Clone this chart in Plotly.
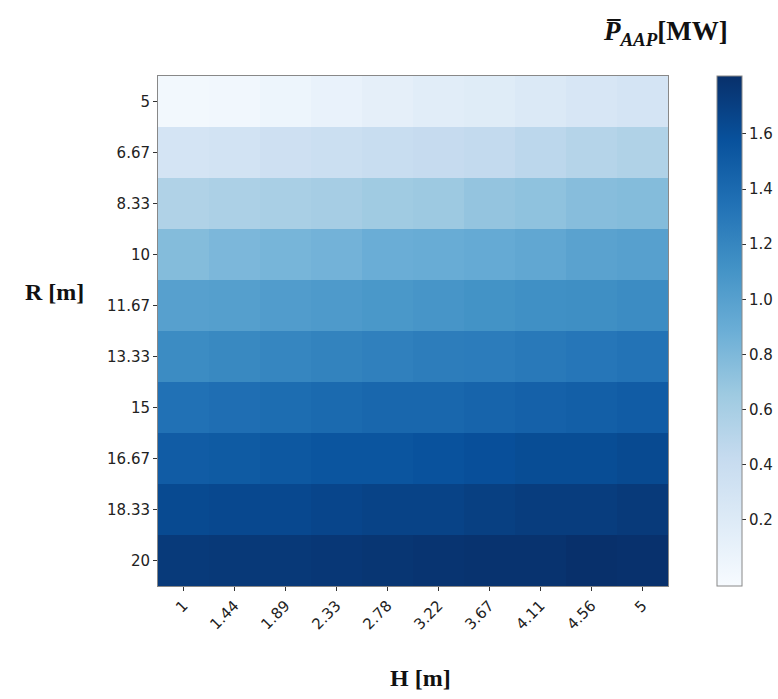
import plotly.graph_objects as go

H_labels = ["1", "1.44", "1.89", "2.33", "2.78", "3.22", "3.67", "4.11", "4.56", "5"]
R_labels = ["5", "6.67", "8.33", "10", "11.67", "13.33", "15", "16.67", "18.33", "20"]

# Mean power P_AAP [MW], rows = R, columns = H
row_R5 = [0.01, 0.02, 0.05, 0.09, 0.13, 0.16, 0.18, 0.22, 0.26, 0.29]
row_R6_67 = [0.29, 0.31, 0.35, 0.37, 0.40, 0.42, 0.44, 0.48, 0.52, 0.55]
row_R8_33 = [0.55, 0.57, 0.59, 0.61, 0.64, 0.66, 0.70, 0.72, 0.76, 0.77]
row_R10 = [0.77, 0.81, 0.83, 0.85, 0.89, 0.90, 0.92, 0.94, 0.98, 1.00]
row_R11_67 = [1.00, 1.01, 1.03, 1.05, 1.07, 1.09, 1.11, 1.13, 1.14, 1.16]
row_R13_33 = [1.16, 1.18, 1.20, 1.22, 1.24, 1.26, 1.27, 1.29, 1.31, 1.33]
row_R15 = [1.35, 1.37, 1.38, 1.40, 1.42, 1.42, 1.44, 1.46, 1.48, 1.50]
row_R16_67 = [1.50, 1.51, 1.53, 1.55, 1.55, 1.57, 1.59, 1.61, 1.61, 1.63]
row_R18_33 = [1.63, 1.64, 1.64, 1.66, 1.68, 1.68, 1.70, 1.72, 1.72, 1.74]
row_R20 = [1.74, 1.75, 1.75, 1.76, 1.77, 1.78, 1.79, 1.79, 1.81, 1.80]

Z = [row_R5, row_R6_67, row_R8_33, row_R10, row_R11_67,
     row_R13_33, row_R15, row_R16_67, row_R18_33, row_R20]

cbar_ticks = [0.2, 0.4, 0.6, 0.8, 1.0, 1.2, 1.4, 1.6]

blues = ["#f7fbff", "#deebf7", "#c6dbef", "#9ecae1", "#6baed6",
         "#4292c6", "#2171b5", "#08519c", "#08306b"]
cscale = [[i / (len(blues) - 1), c] for i, c in enumerate(blues)]

W, Hh = 778, 699
L, R, T, B = 158, 110, 76, 113
PW, PH = W - L - R, Hh - T - B


def px_x(x):
    return (x - L) / PW


def px_y(y):
    return 1 - (y - T) / PH


tick_font = dict(family="DejaVu Sans", size=15, color="#222222")
title_font = dict(family="Liberation Serif", size=24, color="#111111")

fig = go.Figure(go.Heatmap(
    z=Z, x=H_labels, y=R_labels,
    colorscale=cscale, zmin=-0.04, zmax=1.81,
    xgap=0, ygap=0,
    colorbar=dict(
        thickness=25, len=1.0, lenmode="fraction", y=0.5, yanchor="middle",
        ypad=0, x=px_x(717), xanchor="left", xpad=0,
        outlinewidth=1, outlinecolor="#888888",
        tickvals=cbar_ticks, ticktext=[f"{v:.1f}" for v in cbar_ticks],
        ticks="outside", ticklen=4, tickcolor="#333333",
        tickfont=tick_font,
    ),
))

fig.update_layout(
    width=W, height=Hh,
    margin=dict(l=L, r=R, t=T, b=B, autoexpand=False),
    paper_bgcolor="white", plot_bgcolor="white",
    xaxis=dict(
        type="category", tickangle=-45, ticks="outside", ticklen=4,
        tickcolor="#333333", showline=True, linecolor="#888888", linewidth=1,
        mirror=True, showgrid=False, zeroline=False, tickfont=tick_font,
    ),
    yaxis=dict(
        type="category", autorange="reversed", ticks="outside", ticklen=4,
        tickcolor="#333333", showline=True, linecolor="#888888", linewidth=1,
        mirror=True, showgrid=False, zeroline=False, tickfont=tick_font,
    ),
    annotations=[
        dict(text="<b>R [m]</b>", xref="paper", yref="paper",
             x=px_x(54), y=px_y(292), xanchor="center", yanchor="middle",
             showarrow=False, font=title_font),
        dict(text="<b>H [m]</b>", xref="paper", yref="paper",
             x=px_x(420), y=px_y(678), xanchor="center", yanchor="middle",
             showarrow=False, font=title_font),
        dict(text="<b><i>P\u0305<sub>AAP</sub></i>[MW]</b>", xref="paper", yref="paper",
             x=px_x(665), y=px_y(33), xanchor="center", yanchor="middle",
             showarrow=False, font=dict(family="Liberation Serif", size=27, color="#111111")),
    ],
)

fig.write_html("out.html")
